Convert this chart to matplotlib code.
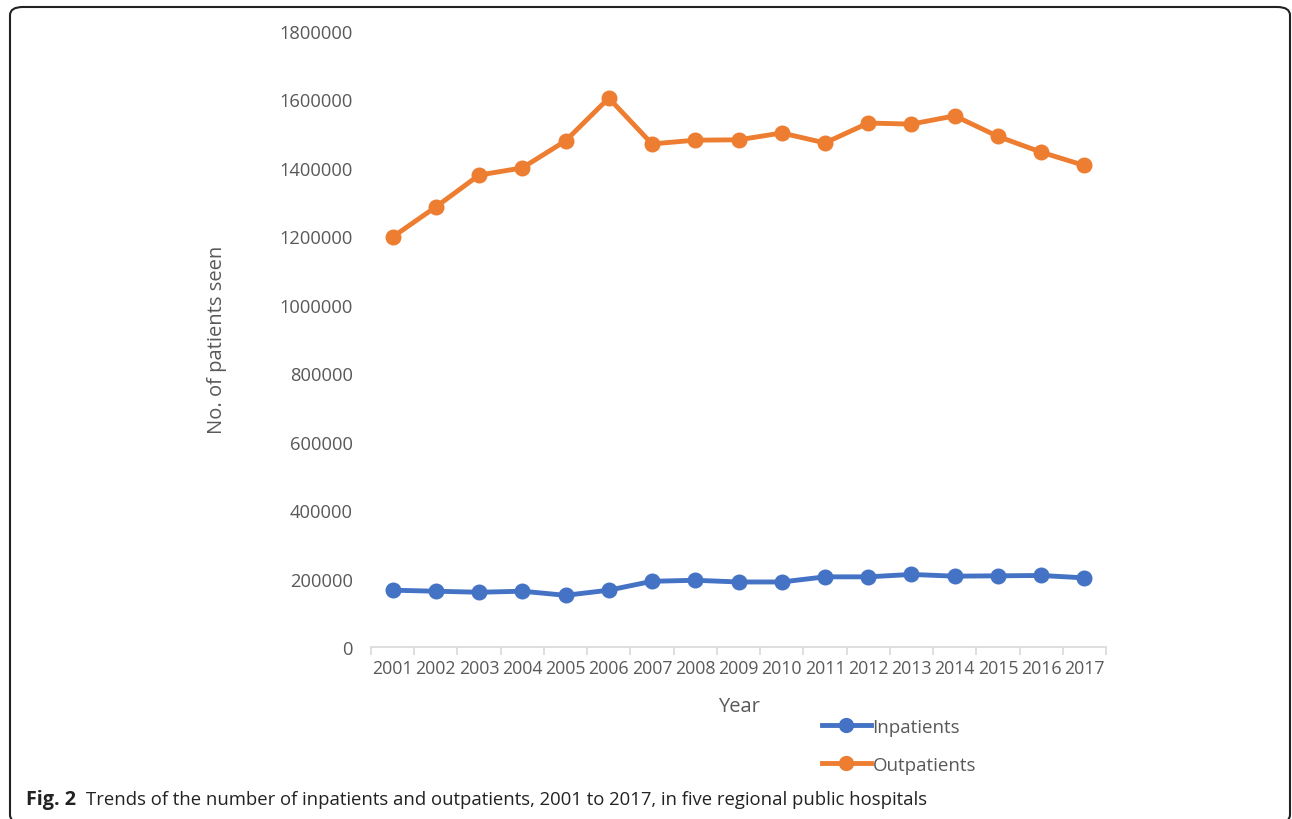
import numpy as np
import matplotlib.pyplot as plt
from matplotlib.patches import FancyBboxPatch

years = ['2001', '2002', '2003', '2004', '2005', '2006', '2007', '2008', '2009',
         '2010', '2011', '2012', '2013', '2014', '2015', '2016', '2017']
inpatients = [166000, 163000, 160000, 163000, 151000, 166000, 192000, 195000, 190000,
              190000, 205000, 205000, 212000, 207000, 208000, 209000, 202000]
outpatients = [1198000, 1286000, 1379000, 1400000, 1479000, 1604000, 1470000, 1481000, 1482000,
               1502000, 1473000, 1531000, 1528000, 1552000, 1492000, 1446000, 1407000]
yticks = [0, 200000, 400000, 600000, 800000, 1000000, 1200000, 1400000, 1600000, 1800000]

plt.rcParams['font.family'] = ['Open Sans', 'DejaVu Sans']
grey = '#595959'

fig = plt.figure(figsize=(12.92, 8.2), dpi=100)
ax = fig.add_axes([371/1292, 1 - 648/820, (1106 - 371)/1292, (648 - 32)/820])

x = np.arange(len(years))
ax.plot(x, inpatients, color='#4472C4', lw=3.5, marker='o', ms=10.5, label='Inpatients')
ax.plot(x, outpatients, color='#ED7D31', lw=3.5, marker='o', ms=10.5, label='Outpatients')

ax.set_xlim(-0.5, len(years) - 0.5)
ax.set_ylim(0, 1800000)
ax.set_yticks(yticks)
ax.set_yticklabels([str(v) for v in yticks])

# ticks on category boundaries, labels in between
ax.set_xticks(np.arange(len(years) + 1) - 0.5)
ax.set_xticklabels([])
ax.set_xticks(x, minor=True)
ax.set_xticklabels(years, minor=True)
ax.tick_params(axis='x', which='major', length=6, color='#D9D9D9', width=1.2)
ax.tick_params(axis='x', which='minor', length=0, pad=9, labelsize=12.8, labelcolor=grey)
ax.tick_params(axis='y', length=0, pad=13, labelsize=13.2, labelcolor=grey)

for s in ['top', 'right', 'left']:
    ax.spines[s].set_visible(False)
ax.spines['bottom'].set_color('#D9D9D9')
ax.spines['bottom'].set_linewidth(1.2)

ax.set_xlabel('Year', fontsize=14.5, color=grey, labelpad=13)
ax.set_ylabel('No. of patients seen', fontsize=14.5, color=grey, labelpad=38)

fig.legend(loc='upper left', bbox_to_anchor=(805/1292, 1 - 702/820), frameon=False,
           fontsize=13.5, labelcolor=grey, handlelength=2.6, handletextpad=0.1,
           labelspacing=1.05, numpoints=1, markerscale=0.95)

border = FancyBboxPatch((10/1292, -4/820), 1280/1292, (820 - 8 + 4)/820,
                        boxstyle='round,pad=0,rounding_size=0.01',
                        transform=fig.transFigure, fill=False, ec='#222222', lw=1.5)
fig.patches.append(border)

fig.text(26/1292, 1 - 800/820, 'Fig. 2', fontsize=14.2, va='center', ha='left',
         color='#222222', fontweight='bold')
fig.text(86/1292, 1 - 800/820,
         'Trends of the number of inpatients and outpatients, 2001 to 2017, in five regional public hospitals',
         fontsize=13.3, va='center', ha='left', color='#222222')

fig.savefig('out.png', dpi=100)
